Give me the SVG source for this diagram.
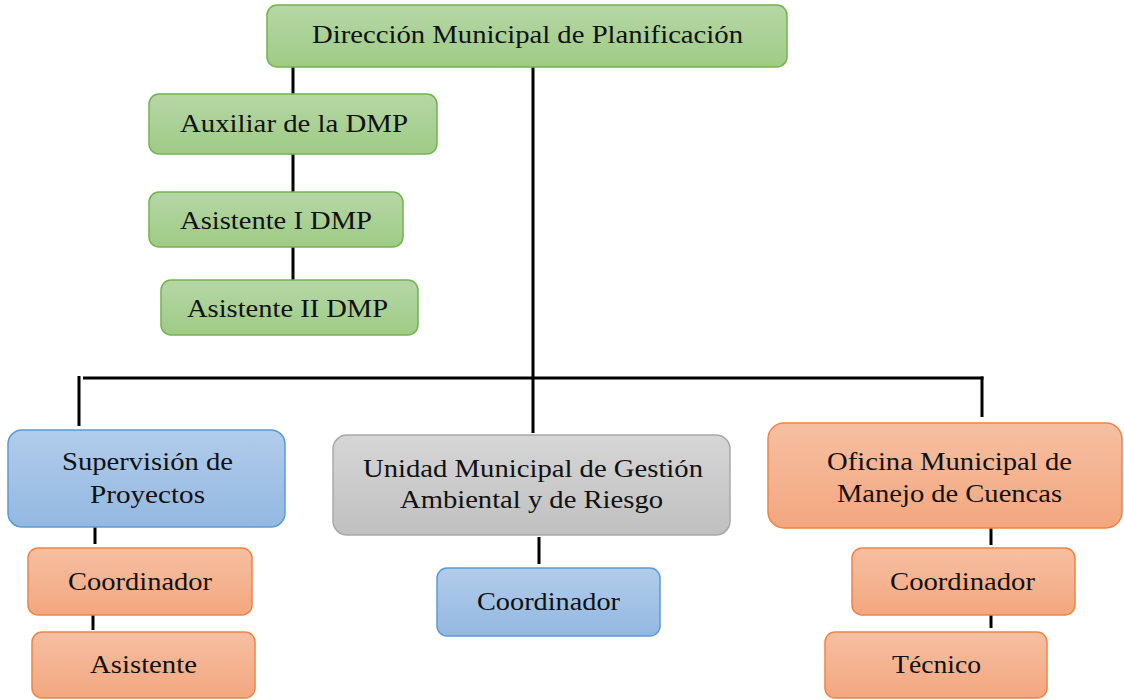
<svg xmlns="http://www.w3.org/2000/svg" width="1124" height="700" viewBox="0 0 1124 700">
<defs>
<linearGradient id="gGreen" x1="0" y1="0" x2="0" y2="1"><stop offset="0" stop-color="#b6d7a6"/><stop offset="1" stop-color="#9ecb85"/></linearGradient>
<linearGradient id="gBlue" x1="0" y1="0" x2="0" y2="1"><stop offset="0" stop-color="#b2cceb"/><stop offset="1" stop-color="#93b8e1"/></linearGradient>
<linearGradient id="gOrange" x1="0" y1="0" x2="0" y2="1"><stop offset="0" stop-color="#f6bfa2"/><stop offset="1" stop-color="#f3a77f"/></linearGradient>
<linearGradient id="gGray" x1="0" y1="0" x2="0" y2="1"><stop offset="0" stop-color="#d6d6d6"/><stop offset="1" stop-color="#c0c0c0"/></linearGradient>
</defs>
<style>
.green{fill:url(#gGreen);stroke:#73b24d;stroke-width:1.5}
.blue{fill:url(#gBlue);stroke:#5b9bd5;stroke-width:1.5}
.orange{fill:url(#gOrange);stroke:#ef8443;stroke-width:1.5}
.gray{fill:url(#gGray);stroke:#a9a9a9;stroke-width:1.5}
.conn line{stroke:#000;stroke-width:3}
</style>
<rect width="1124" height="700" fill="#fff"/>
<g class="conn" id="connectors">
<line x1="293" y1="67" x2="293" y2="94"/>
<line x1="293" y1="154" x2="293" y2="192"/>
<line x1="293" y1="247" x2="293" y2="280"/>
<line x1="533" y1="67" x2="533" y2="433"/>
<line x1="83" y1="378" x2="983.5" y2="378"/>
<line x1="79" y1="376" x2="79" y2="426"/>
<line x1="982" y1="376.5" x2="982" y2="417"/>
<line x1="95" y1="527" x2="95" y2="544"/>
<line x1="93" y1="613" x2="93" y2="630"/>
<line x1="539" y1="537" x2="539" y2="564"/>
<line x1="991" y1="523" x2="991" y2="545"/>
<line x1="991" y1="608" x2="991" y2="628"/>
</g>
<g font-family="Liberation Serif, Times New Roman, DejaVu Serif, serif" font-size="26" fill="#111" text-anchor="middle">
<g id="n-direccion"><rect class="green" x="267" y="5" width="520" height="62" rx="10"/><text x="527.5" y="43" textLength="431" lengthAdjust="spacingAndGlyphs">Dirección Municipal de Planificación</text></g>
<g id="n-auxiliar"><rect class="green" x="149" y="94" width="288" height="60" rx="10"/><text x="294" y="132" textLength="228" lengthAdjust="spacingAndGlyphs">Auxiliar de la DMP</text></g>
<g id="n-asistente1"><rect class="green" x="149" y="192" width="254" height="55" rx="10"/><text x="276" y="229" textLength="192" lengthAdjust="spacingAndGlyphs">Asistente I DMP</text></g>
<g id="n-asistente2"><rect class="green" x="161" y="280" width="257" height="55" rx="10"/><text x="287.5" y="317" textLength="201" lengthAdjust="spacingAndGlyphs">Asistente II DMP</text></g>
<g id="n-supervision"><rect class="blue" x="8" y="430" width="277" height="97" rx="14"/><text x="147.5" y="470" textLength="171" lengthAdjust="spacingAndGlyphs">Supervisión de</text><text x="147.5" y="503" textLength="115" lengthAdjust="spacingAndGlyphs">Proyectos</text></g>
<g id="n-coord-sup"><rect class="orange" x="28" y="548" width="224" height="67" rx="10"/><text x="140" y="590" textLength="144" lengthAdjust="spacingAndGlyphs">Coordinador</text></g>
<g id="n-asistente-sup"><rect class="orange" x="32" y="632" width="223" height="66" rx="10"/><text x="143.5" y="673" textLength="107" lengthAdjust="spacingAndGlyphs">Asistente</text></g>
<g id="n-unidad"><rect class="gray" x="333" y="435" width="397" height="100" rx="14"/><text x="533" y="477" textLength="340" lengthAdjust="spacingAndGlyphs">Unidad Municipal de Gestión</text><text x="531.5" y="508" textLength="263" lengthAdjust="spacingAndGlyphs">Ambiental y de Riesgo</text></g>
<g id="n-coord-unidad"><rect class="blue" x="437" y="568" width="223" height="68" rx="10"/><text x="548.5" y="610" textLength="143" lengthAdjust="spacingAndGlyphs">Coordinador</text></g>
<g id="n-oficina"><rect class="orange" x="768" y="423" width="354" height="105" rx="16"/><text x="949.5" y="470" textLength="245" lengthAdjust="spacingAndGlyphs">Oficina Municipal de</text><text x="949.5" y="502" textLength="225" lengthAdjust="spacingAndGlyphs">Manejo de Cuencas</text></g>
<g id="n-coord-oficina"><rect class="orange" x="852" y="548" width="223" height="67" rx="10"/><text x="962.5" y="590" textLength="145" lengthAdjust="spacingAndGlyphs">Coordinador</text></g>
<g id="n-tecnico"><rect class="orange" x="825" y="632" width="222" height="66" rx="10"/><text x="936.5" y="673" textLength="89" lengthAdjust="spacingAndGlyphs">Técnico</text></g>
</g>
</svg>
